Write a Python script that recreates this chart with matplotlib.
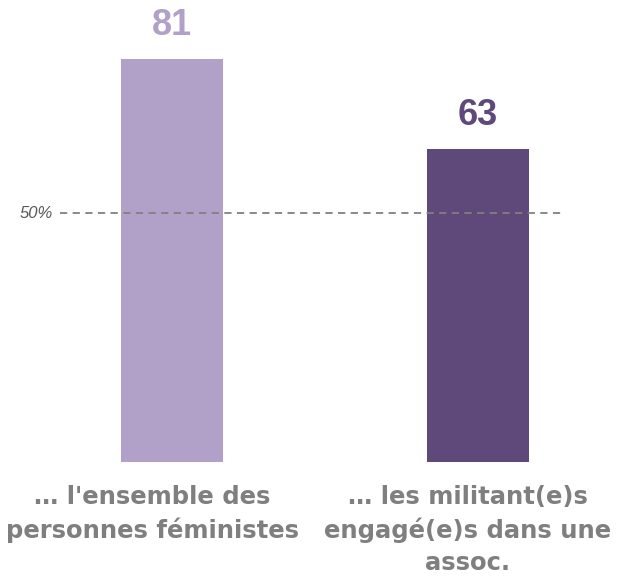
import matplotlib
matplotlib.use("Agg")
import matplotlib.pyplot as plt

# Data
categories = ["… l'ensemble des\npersonnes féministes",
              "… les militant(e)s\nengagé(e)s dans une\nassoc."]
values = [81, 63]
colors = ["#b1a0c7", "#5f497a"]
ref_value = 50

fig = plt.figure(figsize=(6.27, 5.78), dpi=100)
ax = fig.add_axes([60 / 627, 116 / 578, 503 / 627, 447.7 / 578])

x = [0, 1]
ax.bar(x, values, width=0.333, color=colors, zorder=2)
ax.set_xlim(-0.366, 1.278)
ax.set_ylim(0, 90)

for xi, v, c in zip(x, values, colors):
    ax.annotate(str(v), (xi, v), xytext=(0, 24), textcoords="offset points",
                ha="center", va="center", fontsize=26, fontweight="bold",
                color=c, family="Liberation Sans")

ax.axhline(ref_value, color="#808080", linestyle=(0, (4, 3)), linewidth=1.3, zorder=3)
ax.text(-0.39, ref_value, "50%", ha="right", va="center", fontsize=12,
        style="italic", color="#595959", family="Liberation Sans")

for spine in ax.spines.values():
    spine.set_visible(False)
ax.set_xticks([])
ax.set_yticks([])

# category labels below the bars
label_x = [152 / 627, 468 / 627]
for lx, lab in zip(label_x, categories):
    fig.text(lx, (578 - 485) / 578, lab, ha="center", va="top", fontsize=17.5,
             fontweight="bold", color="#7f7f7f", linespacing=1.42,
             family="DejaVu Sans")

fig.savefig("out.png", dpi=100)
